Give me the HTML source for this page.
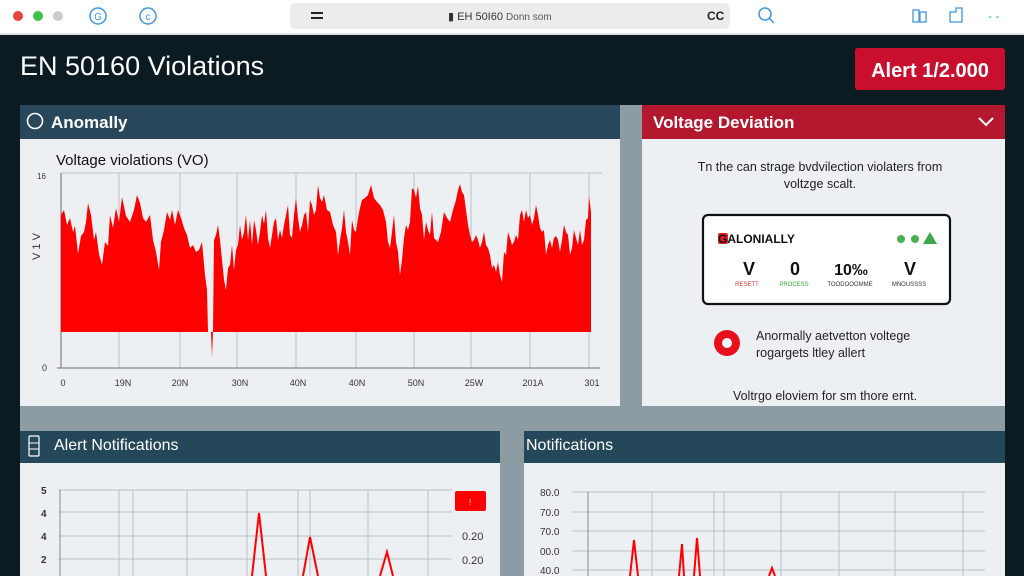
<!DOCTYPE html>
<html><head><meta charset="utf-8"><style>
html,body{margin:0;padding:0;width:1024px;height:576px;overflow:hidden;background:#0c1b22;font-family:"Liberation Sans",sans-serif}
</style></head><body>
<svg width="1024" height="576" viewBox="0 0 1024 576" xmlns="http://www.w3.org/2000/svg" font-family="Liberation Sans, sans-serif">
<rect width="1024" height="576" fill="#0c1b22"/>
<rect width="1024" height="34" fill="#ffffff"/>
<rect y="33" width="1024" height="2" fill="#dfe3e6"/>
<circle cx="18" cy="16" r="5" fill="#e8423f"/><circle cx="38" cy="16" r="5" fill="#3cc24a"/><circle cx="58" cy="16" r="5" fill="#c9cdd0"/>
<circle cx="98" cy="16" r="8" fill="none" stroke="#3f97e0" stroke-width="1.5"/><text x="98" y="20" font-size="10" fill="#3f97e0" text-anchor="middle">G</text>
<circle cx="148" cy="16" r="8" fill="none" stroke="#3f97e0" stroke-width="1.5"/><text x="148" y="20" font-size="10" fill="#3f97e0" text-anchor="middle">c</text>
<rect x="290" y="3" width="440" height="26" rx="5" fill="#ececec"/>
<rect x="311" y="12" width="12" height="2" fill="#222"/><rect x="311" y="17" width="12" height="2" fill="#222"/>
<text x="448" y="20" font-size="11" fill="#333">▮ EH 50I60 <tspan font-size="10" fill="#555">Donn som</tspan></text>
<text x="707" y="20" font-size="12" font-weight="bold" fill="#222">CC</text>
<circle cx="765" cy="14" r="6" fill="none" stroke="#3f97e0" stroke-width="1.5"/><line x1="769" y1="18" x2="774" y2="23" stroke="#3f97e0" stroke-width="1.5"/>
<rect x="913" y="10" width="6" height="12" fill="none" stroke="#3f97e0" stroke-width="1.3"/><rect x="920" y="12" width="6" height="10" fill="none" stroke="#3f97e0" stroke-width="1.3"/>
<path d="M950 22 V12 H956 V8 H962 V22 Z" fill="none" stroke="#3f97e0" stroke-width="1.3"/>
<text x="988" y="20" font-size="12" fill="#3f97e0">- -</text>
<text x="20" y="75" font-size="27" fill="#ffffff">EN 50160 Violations</text>
<rect x="855" y="48" width="150" height="42" rx="3" fill="#c8102e"/>
<text x="930" y="77" font-size="20" font-weight="bold" fill="#fff" text-anchor="middle">Alert 1/2.000</text>
<rect x="20" y="105" width="985" height="330" fill="#8d9ba3"/>
<rect x="500" y="430" width="24" height="146" fill="#8d9ba3"/>
<rect x="20" y="105" width="600" height="34" fill="#28475a"/>
<rect x="20" y="139" width="600" height="267" fill="#edf0f3"/>
<circle cx="35" cy="121" r="7.5" fill="none" stroke="#fff" stroke-width="1.6"/>
<text x="51" y="128" font-size="17" font-weight="bold" fill="#fff">Anomally</text>
<text x="56" y="165" font-size="15" fill="#111">Voltage violations (VO)</text>
<text x="37" y="179" font-size="8" fill="#333">16</text>
<text x="42" y="371" font-size="9" fill="#333">0</text>
<text x="40" y="260" font-size="11" fill="#333" transform="rotate(-90 40 260)">V 1 V</text>
<g stroke="#b9c0c6" stroke-width="1">
<line x1="61" y1="173" x2="602" y2="173"/>
<line x1="119" y1="173" x2="119" y2="368"/><line x1="180" y1="173" x2="180" y2="368"/><line x1="237" y1="173" x2="237" y2="368"/><line x1="296" y1="173" x2="296" y2="368"/><line x1="356" y1="173" x2="356" y2="368"/><line x1="414" y1="173" x2="414" y2="368"/><line x1="471" y1="173" x2="471" y2="368"/><line x1="530" y1="173" x2="530" y2="368"/><line x1="589" y1="173" x2="589" y2="368"/>
</g>
<line x1="61" y1="173" x2="61" y2="368" stroke="#888" stroke-width="1.3"/>
<line x1="57" y1="368" x2="600" y2="368" stroke="#888" stroke-width="1.3"/>
<path fill="#ff0000" d="M61 332 L61 215 L64 210 L67 225 L70 218 L73 232 L75 226 L78 254 L81 236 L84 232 L86 222 L88 203 L91 215 L94 240 L96 232 L99 254 L102 265 L105 242 L108 246 L110 215 L113 228 L116 208 L119 222 L122 197 L126 216 L130 222 L134 210 L137 195 L140 203 L143 218 L146 222 L150 215 L153 240 L156 252 L159 270 L161 242 L164 230 L167 212 L170 220 L172 210 L175 225 L178 210 L181 218 L184 228 L187 235 L190 248 L193 245 L196 252 L199 250 L202 242 L205 275 L207 290 L208 332 L211 332 L212 357 L213 332 L214 240 L216 235 L218 225 L220 240 L222 260 L224 280 L226 290 L228 268 L230 265 L232 245 L234 270 L236 250 L238 245 L240 225 L242 240 L244 232 L246 215 L248 240 L250 220 L252 245 L254 220 L256 230 L258 245 L260 232 L262 215 L264 224 L266 210 L268 238 L270 248 L272 235 L274 222 L276 218 L278 240 L280 230 L282 238 L284 225 L286 215 L288 205 L290 235 L292 238 L294 215 L296 198 L298 218 L300 232 L302 225 L304 215 L306 212 L308 232 L310 200 L312 205 L314 215 L316 210 L318 185 L320 198 L322 202 L324 195 L327 210 L330 212 L333 225 L336 232 L338 255 L340 240 L342 228 L344 210 L346 232 L348 242 L350 255 L352 220 L354 230 L356 232 L358 218 L360 208 L362 200 L365 198 L368 195 L371 185 L374 198 L377 202 L380 205 L383 210 L386 222 L388 242 L390 248 L392 232 L394 215 L396 242 L398 252 L400 275 L402 260 L404 238 L406 225 L408 230 L410 222 L412 188 L414 190 L416 198 L418 186 L420 208 L422 215 L424 240 L426 222 L428 230 L430 235 L432 212 L434 238 L436 240 L438 242 L441 232 L444 212 L447 218 L450 222 L453 210 L456 200 L458 190 L460 184 L462 192 L464 195 L466 210 L468 225 L470 235 L472 242 L474 240 L476 235 L478 240 L480 248 L482 242 L484 232 L486 245 L488 248 L490 255 L492 268 L494 265 L496 272 L498 262 L500 275 L502 282 L504 252 L506 255 L508 232 L510 238 L512 245 L514 242 L516 235 L518 240 L520 215 L522 210 L524 222 L526 210 L528 218 L530 215 L532 225 L534 218 L536 205 L538 215 L540 228 L542 232 L544 230 L546 255 L548 245 L550 240 L552 248 L554 238 L556 236 L558 240 L560 252 L562 240 L564 225 L566 232 L568 235 L570 255 L572 248 L574 230 L576 238 L578 245 L580 230 L582 245 L584 240 L586 220 L588 218 L589 196 L591 212 L591 332 Z"/>
<g font-size="9" fill="#333" text-anchor="middle">
<text x="63" y="386">0</text><text x="123" y="386">19N</text><text x="180" y="386">20N</text><text x="240" y="386">30N</text><text x="298" y="386">40N</text><text x="357" y="386">40N</text><text x="416" y="386">50N</text><text x="474" y="386">25W</text><text x="533" y="386">201A</text><text x="592" y="386">301</text>
</g>
<rect x="642" y="105" width="363" height="34" fill="#b3182f"/>
<rect x="642" y="139" width="363" height="267" fill="#edf0f3"/>
<text x="653" y="128" font-size="17" font-weight="bold" fill="#fff">Voltage Deviation</text>
<path d="M979 118 L986 125 L993 118" fill="none" stroke="#fff" stroke-width="2"/>
<text x="820" y="171" font-size="12.5" fill="#222" text-anchor="middle">Tn the can strage bvdvilection violaters from</text>
<text x="820" y="188" font-size="12.5" fill="#222" text-anchor="middle">voltzge scalt.</text>
<rect x="703" y="215" width="247" height="89" rx="5" fill="#fff" stroke="#111" stroke-width="2.2"/>
<rect x="718" y="233" width="10" height="11" rx="2" fill="#e02020"/>
<text x="718" y="243" font-size="12" font-weight="bold" fill="#111">GALONIALLY</text>
<circle cx="901" cy="239" r="4" fill="#4caf50"/><circle cx="915" cy="239" r="4" fill="#4caf50"/><path d="M923 244 L930 232 L937 244 Z" fill="#3aa84a"/>
<g font-size="18" font-weight="bold" fill="#111" text-anchor="middle">
<text x="749" y="275">V</text><text x="795" y="275">0</text><text x="851" y="275" font-size="16">10‰</text><text x="910" y="275">V</text></g>
<g font-size="6" text-anchor="middle"><text x="747" y="286" fill="#d33">RESETT</text><text x="794" y="286" fill="#3a3">PROCESS</text><text x="850" y="286" fill="#333">TOODOOOMME</text><text x="909" y="286" fill="#333">MNOUSSSS</text></g>
<circle cx="727" cy="343" r="13" fill="#e8101a"/><circle cx="727" cy="343" r="5" fill="#fff"/>
<text x="756" y="340" font-size="12.5" fill="#222">Anormally aetvetton voltege</text>
<text x="756" y="357" font-size="12.5" fill="#222">rogargets ltley allert</text>
<text x="825" y="400" font-size="12.5" fill="#222" text-anchor="middle">Voltrgo eloviem for sm thore ernt.</text>
<rect x="20" y="431" width="480" height="32" fill="#24475a"/>
<rect x="20" y="463" width="480" height="113" fill="#edf0f3"/>
<rect x="29" y="436" width="10" height="20" rx="1" fill="none" stroke="#fff" stroke-width="1.2"/>
<line x1="29" y1="443" x2="39" y2="443" stroke="#fff"/><line x1="29" y1="449" x2="39" y2="449" stroke="#fff"/>
<text x="54" y="450" font-size="16" fill="#fff">Alert Notifications</text>
<g stroke="#b9c0c6" stroke-width="1">
<line x1="58" y1="490" x2="452" y2="490"/><line x1="58" y1="512" x2="452" y2="512"/><line x1="58" y1="536" x2="452" y2="536"/><line x1="58" y1="559" x2="452" y2="559"/>
<line x1="119" y1="490" x2="119" y2="576"/><line x1="133" y1="490" x2="133" y2="576"/><line x1="187" y1="490" x2="187" y2="576"/><line x1="247" y1="490" x2="247" y2="576"/><line x1="298" y1="490" x2="298" y2="576"/><line x1="310" y1="490" x2="310" y2="576"/><line x1="368" y1="490" x2="368" y2="576"/><line x1="428" y1="490" x2="428" y2="576"/>
</g>
<line x1="60" y1="490" x2="60" y2="576" stroke="#888"/>
<g font-size="10" fill="#333" font-weight="bold"><text x="41" y="494">5</text><text x="41" y="517">4</text><text x="41" y="540">4</text><text x="41" y="563">2</text></g>
<rect x="455" y="491" width="31" height="20" rx="2" fill="#ff0000"/><text x="469" y="505" font-size="8" fill="#fff">!</text>
<g font-size="11" fill="#333"><text x="462" y="540">0.20</text><text x="462" y="564">0.20</text></g>
<g fill="none" stroke="#ff0000" stroke-width="2"><path d="M252 576 L259 513 L266 576"/><path d="M303 576 L310 537 L318 576"/><path d="M380 576 L387 552 L393 576"/></g>
<rect x="524" y="431" width="481" height="32" fill="#24475a"/>
<rect x="524" y="463" width="481" height="113" fill="#edf0f3"/>
<text x="526" y="450" font-size="16" fill="#fff">Notifications</text>
<g stroke="#b9c0c6" stroke-width="1">
<line x1="572" y1="492" x2="985" y2="492"/><line x1="572" y1="512" x2="985" y2="512"/><line x1="572" y1="531" x2="985" y2="531"/><line x1="572" y1="551" x2="985" y2="551"/><line x1="572" y1="570" x2="985" y2="570"/>
<line x1="652" y1="492" x2="652" y2="576"/><line x1="714" y1="492" x2="714" y2="576"/><line x1="724" y1="492" x2="724" y2="576"/><line x1="781" y1="492" x2="781" y2="576"/><line x1="839" y1="492" x2="839" y2="576"/><line x1="895" y1="492" x2="895" y2="576"/><line x1="963" y1="492" x2="963" y2="576"/>
</g>
<line x1="588" y1="492" x2="588" y2="576" stroke="#888"/>
<g font-size="10" fill="#333"><text x="540" y="496">80.0</text><text x="540" y="516">70.0</text><text x="540" y="535">70.0</text><text x="540" y="555">00.0</text><text x="540" y="574">40.0</text></g>
<g fill="none" stroke="#ff0000" stroke-width="2"><path d="M630 576 L634 540 L638 576"/><path d="M679 576 L682 544 L684 576"/><path d="M694 576 L697 538 L700 576"/><path d="M769 576 L772 568 L775 576"/></g>
</svg>
</body></html>
